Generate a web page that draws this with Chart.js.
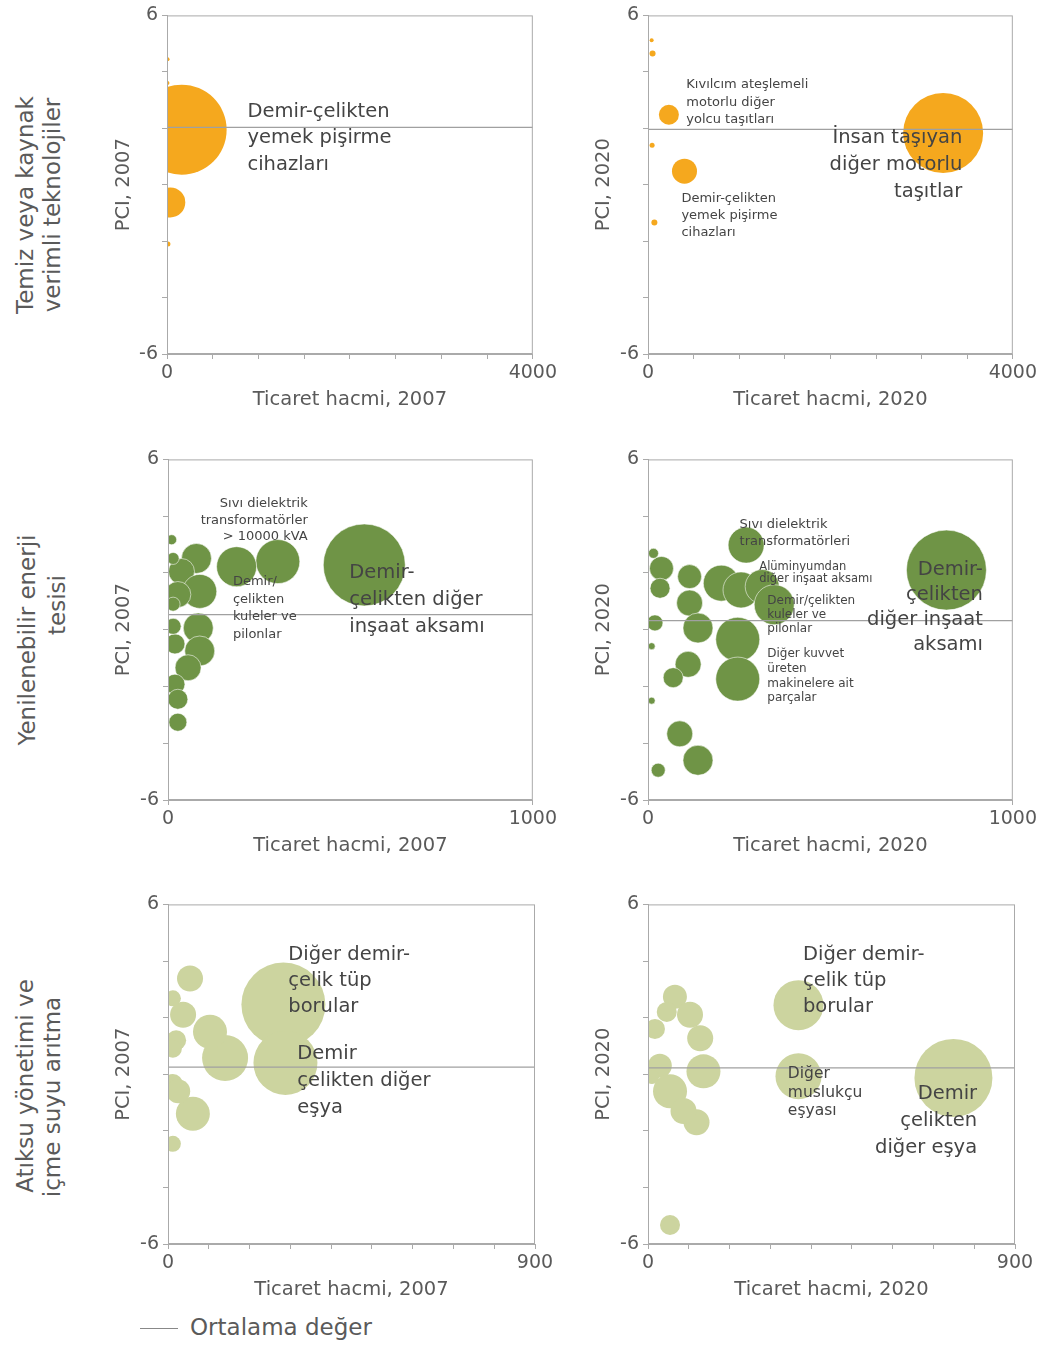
<!DOCTYPE html>
<html lang="tr">
<head>
<meta charset="utf-8">
<script src="https://cdn.jsdelivr.net/npm/chart.js@4.4.1/dist/chart.umd.min.js"></script>
<style>
  body { margin:0; background:#fff; width:1048px; height:1356px; position:relative; overflow:hidden;
         font-family:"DejaVu Sans", sans-serif; color:#5a5a5a; }
  canvas { position:absolute; }
  .satir { position:absolute; white-space:nowrap; font-size:23px; color:#5a5a5a;
           transform:translate(-50%,-50%) rotate(-90deg); }
  .lejant { position:absolute; left:140px; top:1314px; font-size:23px; color:#5a5a5a; }
  .lejant span { display:inline-block; width:38px; height:0; border-top:1.5px solid #888; vertical-align:middle; margin-right:12px; }
</style>
</head>
<body>

<div class="satir" style="left:25px; top:205px;">Temiz veya kaynak</div>
<div class="satir" style="left:52px; top:205px;">verimli teknolojiler</div>
<div class="satir" style="left:27px; top:640px;">Yenilenebilir enerji</div>
<div class="satir" style="left:57px; top:605px;">tesisi</div>
<div class="satir" style="left:25px; top:1086px;">Atıksu yönetimi ve</div>
<div class="satir" style="left:52px; top:1097px;">içme suyu arıtma</div>

<canvas id="c1" width="460" height="416" style="left:100px; top:0px;"></canvas>
<canvas id="c2" width="460" height="416" style="left:580px; top:0px;"></canvas>
<canvas id="c3" width="460" height="418" style="left:100px; top:444px;"></canvas>
<canvas id="c4" width="460" height="418" style="left:580px; top:444px;"></canvas>
<canvas id="c5" width="460" height="417" style="left:100px; top:889px;"></canvas>
<canvas id="c6" width="460" height="417" style="left:580px; top:889px;"></canvas>

<div class="lejant"><span></span>Ortalama değer</div>

<script>
// ===== VERİ =====
// Temiz veya kaynak verimli teknolojiler
const temiz2007X = [160, 36, 10, 6, 5];
const temiz2007Y = [1.95, -0.63, -2.1, 4.45, 3.6];
const temiz2007R = [45, 15, 2.5, 2, 2];
const temiz2020X = [3236, 229, 400, 40, 50, 45, 70];
const temiz2020Y = [1.83, 2.48, 0.48, 5.12, 4.65, 1.4, -1.34];
const temiz2020R = [40, 10, 12.5, 2, 3, 2.5, 3];

// Yenilenebilir enerji tesisi
const yenilenebilir2007X = [538, 301, 188, 78, 37, 10, 14, 87, 27, 83, 87, 19, 55, 19, 27, 27, 14, 14];
const yenilenebilir2007Y = [2.28, 2.4, 2.22, 2.51, 2.05, 3.17, 2.51, 1.35, 1.24, 0.06, -0.75, -0.5, -1.34, -1.92, -2.45, -3.26, 0.12, 0.9];
const yenilenebilir2007R = [41, 22, 20, 15, 13, 5, 6, 17, 13, 15, 15, 10, 13, 10, 10, 9, 8, 7];
const yenilenebilir2020X = [818, 269, 201, 255, 313, 346, 246, 246, 114, 137, 110, 69, 37, 114, 33, 15, 19, 10, 10, 87, 137, 28];
const yenilenebilir2020Y = [2.1, 2.98, 1.64, 1.4, 1.52, 0.88, -0.34, -1.74, 0.94, 0.06, -1.22, -1.69, 2.16, 1.87, 1.46, 2.69, 0.24, -0.58, -2.5, -3.67, -4.6, -4.95];
const yenilenebilir2020R = [40, 18, 18, 18, 17, 20, 22, 22, 13, 15, 13, 10, 12, 12, 10, 5, 8, 3.5, 3.5, 13, 15, 7];

// Atıksu yönetimi ve içme suyu arıtma
const atiksu2007X = [283, 288, 140, 54, 103, 37, 61, 12, 12, 12, 20, 12, 25];
const atiksu2007Y = [2.46, 0.4, 0.57, 3.38, 1.5, 2.1, -1.4, -0.35, -2.46, 2.68, 1.2, 0.9, -0.6];
const atiksu2007R = [42, 32, 23, 13, 17, 13, 17, 10, 8, 8, 10, 9, 12];
const atiksu2020X = [369, 369, 749, 66, 103, 128, 136, 17, 29, 54, 119, 87, 10, 54, 46];
const atiksu2020Y = [2.44, -0.07, -0.13, 2.74, 2.1, 1.27, 0.1, 1.6, 0.3, -0.6, -1.7, -1.3, -0.1, -5.33, 2.2];
const atiksu2020R = [25, 23, 39, 12, 13, 13, 17, 10, 12, 17, 13, 13, 7, 10, 10];

// Ortalama değerler (PCI)
const ortalama2007 = [2.03, 0.53, 0.25];
const ortalama2020 = [1.96, 0.32, 0.22];

// Eksen bilgileri
const xMaksimum = [4000, 1000, 900];
const xAdim = [500, 1000, 100];
const yTikler = [-6, -4, -2, 0, 2, 4, 6];

// Renkler
const turuncu = "#F5A81E";
const yesil = "#6F9446";
const acikYesil = "#CCD49F";
const yaziFont = '"DejaVu Sans", sans-serif';

// ===== ETİKETLER =====
const etiket1 = [
  { x: 880, y: 2.59, satirlar: ["Demir-çelikten", "yemek pişirme", "cihazları"], boyut: 19.5, aralik: 26.5, hiza: "left" }
];
const etiket2 = [
  { x: 420, y: 3.54, satirlar: ["Kıvılcım ateşlemeli", "motorlu diğer", "yolcu taşıtları"], boyut: 13, aralik: 17.5, hiza: "left" },
  { x: 366, y: -0.51, satirlar: ["Demir-çelikten", "yemek pişirme", "cihazları"], boyut: 13, aralik: 17, hiza: "left" },
  { x: 3446, y: 1.65, satirlar: ["İnsan taşıyan", "diğer motorlu", "taşıtlar"], boyut: 19.5, aralik: 26.7, hiza: "right" }
];
const etiket3 = [
  { x: 383, y: 4.44, satirlar: ["Sıvı dielektrik", "transformatörler", "> 10000 kVA"], boyut: 13, aralik: 16.7, hiza: "right" },
  { x: 178, y: 1.7, satirlar: ["Demir/", "çelikten", "kuleler ve", "pilonlar"], boyut: 13, aralik: 17.7, hiza: "left" },
  { x: 497, y: 1.99, satirlar: ["Demir-", "çelikten diğer", "inşaat aksamı"], boyut: 19.5, aralik: 27, hiza: "left" }
];
const etiket4 = [
  { x: 251, y: 3.69, satirlar: ["Sıvı dielektrik", "transformatörleri"], boyut: 13, aralik: 17, hiza: "left" },
  { x: 305, y: 2.2, satirlar: ["Alüminyumdan", "diğer inşaat aksamı"], boyut: 11.5, aralik: 11.5, hiza: "left" },
  { x: 327, y: 1.0, satirlar: ["Demir/çelikten", "kuleler ve", "pilonlar"], boyut: 12, aralik: 14, hiza: "left" },
  { x: 327, y: -0.86, satirlar: ["Diğer kuvvet", "üreten", "makinelere ait", "parçalar"], boyut: 12, aralik: 14.7, hiza: "left" },
  { x: 918, y: 2.12, satirlar: ["Demir-", "çelikten", "diğer inşaat", "aksamı"], boyut: 19.5, aralik: 25, hiza: "right" }
];
const etiket5 = [
  { x: 295, y: 4.21, satirlar: ["Diğer demir-", "çelik tüp", "borular"], boyut: 19.5, aralik: 26, hiza: "left" },
  { x: 317, y: 0.7, satirlar: ["Demir", "çelikten diğer", "eşya"], boyut: 19.5, aralik: 27, hiza: "left" }
];
const etiket6 = [
  { x: 380, y: 4.21, satirlar: ["Diğer demir-", "çelik tüp", "borular"], boyut: 19.5, aralik: 26, hiza: "left" },
  { x: 343, y: 0.0, satirlar: ["Diğer", "muslukçu", "eşyası"], boyut: 15.5, aralik: 18.5, hiza: "left" },
  { x: 807, y: -0.7, satirlar: ["Demir", "çelikten", "diğer eşya"], boyut: 19.5, aralik: 27, hiza: "right" }
];

// ===== EKLENTİLER =====
const cerceve = {
  id: "cerceve",
  afterDraw(chart) {
    const { ctx, chartArea: a } = chart;
    ctx.save();
    ctx.strokeStyle = "#aaa";
    ctx.lineWidth = 1;
    ctx.strokeRect(a.left + 0.5, a.top + 0.5, a.right - a.left - 1, a.bottom - a.top - 1);
    ctx.restore();
  }
};

const yazilar = {
  id: "yazilar",
  afterDraw(chart, args, opts) {
    const { ctx, scales } = chart;
    ctx.save();
    ctx.fillStyle = "#444";
    ctx.textBaseline = "middle";
    (opts.liste || []).forEach(e => {
      ctx.font = e.boyut + "px " + yaziFont;
      ctx.textAlign = e.hiza;
      const px = scales.x.getPixelForValue(e.x);
      const py = scales.y.getPixelForValue(e.y);
      e.satirlar.forEach((s, i) => ctx.fillText(s, px, py + i * e.aralik));
    });
    ctx.restore();
  }
};

// ===== GRAFİK =====
function ciz(id, xs, ys, rs, renk, kenar, ortalama, satir, yil, yGenislik, etiketler) {
  const xMax = xMaksimum[satir];
  new Chart(document.getElementById(id), {
    data: {
      datasets: [
        {
          type: "line",
          data: [{ x: 0, y: ortalama }, { x: xMax, y: ortalama }],
          borderColor: "#a0a0a0",
          borderWidth: 1.3,
          pointRadius: 0,
          order: 0,
          clip: 0
        },
        {
          type: "bubble",
          data: xs.map((v, i) => ({ x: v, y: ys[i], r: rs[i] })),
          backgroundColor: renk,
          borderColor: kenar,
          borderWidth: kenar ? 1 : 0,
          order: 1,
          clip: 0
        }
      ]
    },
    options: {
      responsive: false,
      animation: false,
      layout: { autoPadding: false, padding: { top: 13, right: 25, left: 0, bottom: 0 } },
      plugins: {
        legend: { display: false },
        tooltip: { enabled: false },
        yazilar: { liste: etiketler }
      },
      scales: {
        x: {
          type: "linear",
          min: 0,
          max: xMax,
          ticks: {
            stepSize: xAdim[satir],
            autoSkip: false,
            maxRotation: 0,
            padding: 3,
            color: "#5a5a5a",
            font: { family: yaziFont, size: 19 },
            callback: v => (v === 0 || v === xMax) ? v : ""
          },
          grid: { drawOnChartArea: false, drawTicks: true, tickLength: 5, color: "#aaa" },
          border: { color: "#aaa" },
          title: { display: true, text: "Ticaret hacmi, " + yil, color: "#5a5a5a",
                   font: { family: yaziFont, size: 19.5 }, padding: { top: 0, bottom: 4 } },
          afterFit: s => { s.height = 62; }
        },
        y: {
          type: "linear",
          min: -6,
          max: 6,
          afterBuildTicks: s => { s.ticks = yTikler.map(v => ({ value: v })); },
          ticks: {
            autoSkip: false,
            padding: 4,
            color: "#5a5a5a",
            font: { family: yaziFont, size: 19 },
            callback: v => (v === 6 || v === -6) ? v : ""
          },
          grid: { drawOnChartArea: false, drawTicks: true, tickLength: 5, color: "#aaa" },
          border: { color: "#aaa" },
          title: { display: true, text: "PCI, " + yil, color: "#5a5a5a",
                   font: { family: yaziFont, size: 19.5 }, padding: { top: 12.5, bottom: 0 } },
          afterFit: s => { s.width = yGenislik; }
        }
      }
    },
    plugins: [cerceve, yazilar]
  });
}

ciz("c1", temiz2007X, temiz2007Y, temiz2007R, turuncu, null, ortalama2007[0], 0, 2007, 67, etiket1);
ciz("c2", temiz2020X, temiz2020Y, temiz2020R, turuncu, null, ortalama2020[0], 0, 2020, 68, etiket2);
ciz("c3", yenilenebilir2007X, yenilenebilir2007Y, yenilenebilir2007R, yesil, "rgba(255,255,255,0.55)", ortalama2007[1], 1, 2007, 68, etiket3);
ciz("c4", yenilenebilir2020X, yenilenebilir2020Y, yenilenebilir2020R, yesil, "rgba(255,255,255,0.55)", ortalama2020[1], 1, 2020, 68, etiket4);
ciz("c5", atiksu2007X, atiksu2007Y, atiksu2007R, acikYesil, null, ortalama2007[2], 2, 2007, 68, etiket5);
ciz("c6", atiksu2020X, atiksu2020Y, atiksu2020R, acikYesil, null, ortalama2020[2], 2, 2020, 68, etiket6);
</script>
</body>
</html>
